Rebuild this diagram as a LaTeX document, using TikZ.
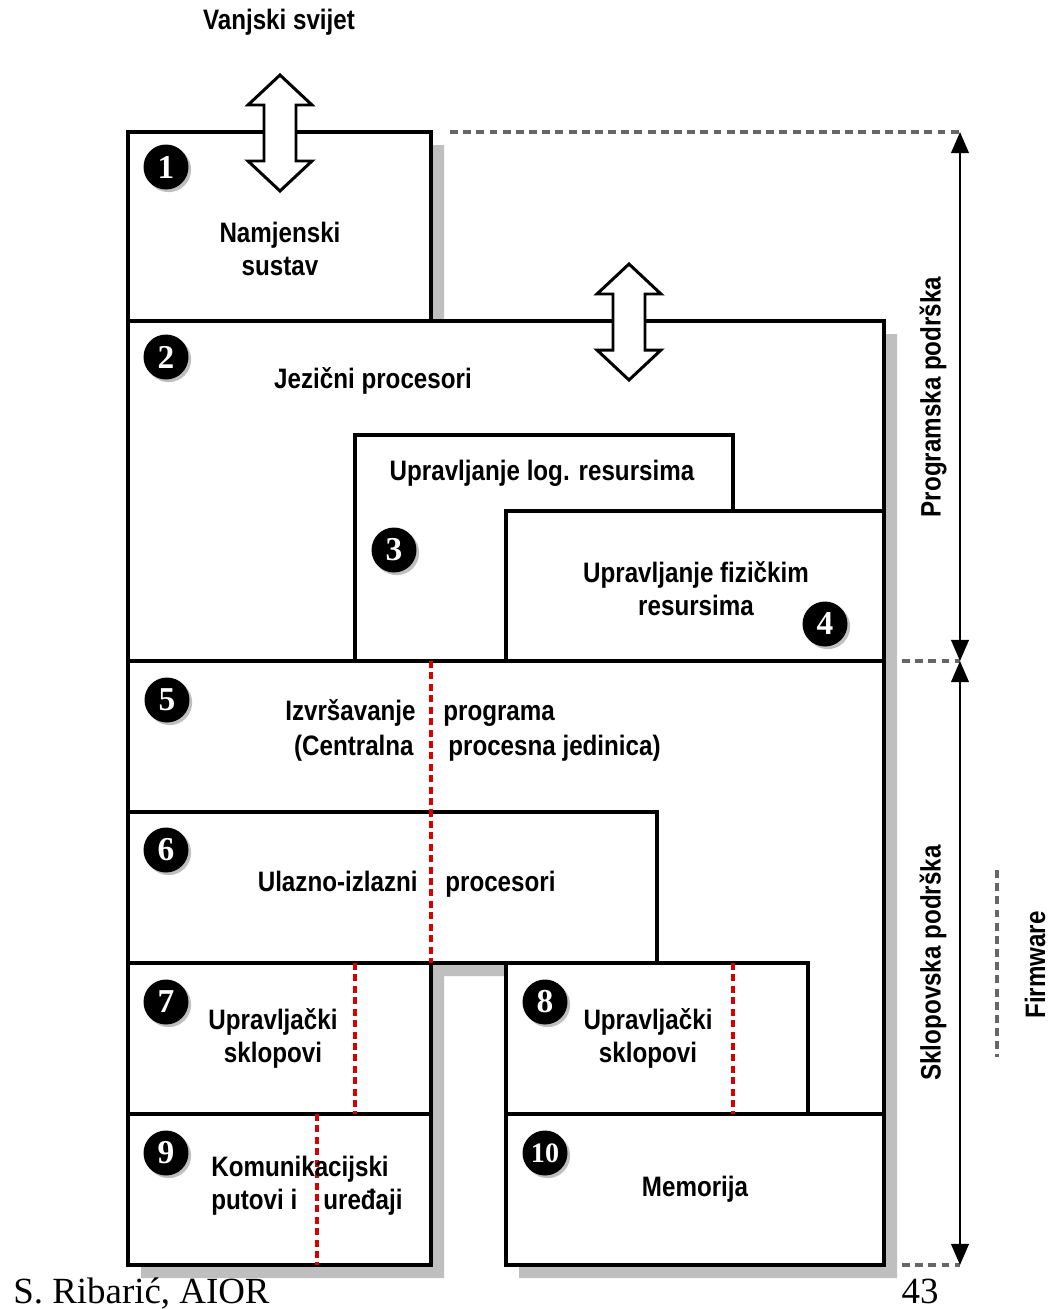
\documentclass[tikz,border=0pt]{standalone}
\usepackage{fontspec}
\setmainfont{Liberation Serif}
\newfontfamily\lblfont[FakeStretch=0.86]{Liberation Sans}
\usetikzlibrary{arrows.meta, shadows}

\begin{document}
\begin{tikzpicture}[x=0.02cm, y=-0.02cm,
    every node/.style={font=\lblfont\bfseries\fontsize{16}{18.8}\selectfont, align=center, inner sep=0pt},
    box/.style={line width=2pt, line join=miter},
    cut/.style={red!85!black, line width=1.8pt, dash pattern=on 4pt off 2.5pt},
    guide/.style={black!60, line width=1.9pt, dash pattern=on 4.5pt off 3pt},
    num/.style={circle, fill=black, text=white, minimum size=0.9cm,
      font=\rmfamily\bfseries\fontsize{19}{19}\selectfont,
      drop shadow={shadow xshift=1.5pt, shadow yshift=-1.5pt, fill=black!25, opacity=1}},
    io/.style={fill=white, line width=1.7pt, line join=miter},
    span/.style={line width=1.3pt, {Triangle[width=10pt,length=12pt]}-{Triangle[width=10pt,length=12pt]}}]
  \useasboundingbox (0,0) rectangle (1050,1309);

  % shadow and outline of the whole block
  \fill[black!25] (141,145) -- (444,145) -- (444,334) -- (897,334) -- (897,1278) -- (519,1278)
    -- (519,976) -- (444,976) -- (444,1278) -- (141,1278) -- cycle;
  \draw[box, fill=white] (128,132) -- (431,132) -- (431,321) -- (884,321) -- (884,1265) -- (506,1265)
    -- (506,963) -- (431,963) -- (431,1265) -- (128,1265) -- cycle;

  % inner walls
  \draw[box] (128,321) -- (431,321);
  \draw[box] (355,661) -- (355,435) -- (733,435) -- (733,511);
  \draw[box] (506,661) -- (506,511) -- (884,511);
  \draw[box] (128,661) -- (884,661);
  \draw[box] (128,812) -- (657,812) -- (657,963) -- (128,963);
  \draw[box] (506,963) -- (808,963) -- (808,1114);
  \draw[box] (128,1114) -- (431,1114);
  \draw[box] (506,1114) -- (884,1114);

  % firmware cuts
  \draw[cut] (431,661) -- (431,963);
  \draw[cut] (355,963) -- (355,1114);
  \draw[cut] (317,1114) -- (317,1265);
  \draw[cut] (733,963) -- (733,1114);

  % hollow double arrows
  \foreach \cx/\ty in {280/75, 629/264}
    \draw[io] (\cx,\ty) -- (\cx+32,\ty+30) -- (\cx+16,\ty+30) -- (\cx+16,\ty+86) -- (\cx+32,\ty+86)
      -- (\cx,\ty+116) -- (\cx-32,\ty+86) -- (\cx-16,\ty+86) -- (\cx-16,\ty+30) -- (\cx-32,\ty+30) -- cycle;

  % numbers
  \node[num] (n1) at (166,167) {1};
  \node[num] (n2) at (166,357) {2};
  \node[num] (n3) at (394,550) {3};
  \node[num] (n4) at (825,624) {4};
  \node[num] (n5) at (167,700) {5};
  \node[num] (n6) at (166,850) {6};
  \node[num] (n7) at (166,1002) {7};
  \node[num] (n8) at (545,1002) {8};
  \node[num] (n9) at (166,1153) {9};
  \node[num, font=\rmfamily\bfseries\fontsize{16}{16}\selectfont] (n10) at (545,1153) {10};

  % labels
  \node (world) at (279,22) {Vanjski svijet};
  \node (dedicated) at (280,249) {Namjenski\\sustav};
  \node (langproc) at (373,381) {Jezični procesori};
  \node (logres) at (542,473) {Upravljanje log. resursima};
  \node (physres) at (696,589) {Upravljanje fizičkim\\resursima};
  \node[anchor=mid east] (exec1) at (416,716) {Izvršavanje};
  \node[anchor=mid west] (exec2) at (443,716) {programa};
  \node[anchor=mid east] (cpu1) at (414,751) {(Centralna};
  \node[anchor=mid west] (cpu2) at (448,751) {procesna jedinica)};
  \node[anchor=mid east] (iop1) at (418,887) {Ulazno-izlazni};
  \node[anchor=mid west] (iop2) at (445,887) {procesori};
  \node (ctrl1) at (273,1038) {Upravljački\\sklopovi};
  \node (ctrl2) at (648,1038) {Upravljački\\sklopovi};
  \node[anchor=mid west] (comm1) at (211,1172) {Komunikacijski};
  \node[anchor=mid west] (comm2) at (211,1205) {putovi i};
  \node[anchor=mid west] (comm3) at (323,1205) {uređaji};
  \node (memory) at (695,1189) {Memorija};

  % software / hardware spans
  \coordinate (ptop) at (960,132);
  \coordinate (pmid) at (960,661);
  \coordinate (pbot) at (960,1265);
  \draw[guide] (450,132) -- (ptop);
  \draw[guide] (902,661) -- (pmid);
  \draw[guide] (902,1265) -- (pbot);
  \draw[span] (ptop) -- (pmid);
  \draw[span] (pmid) -- (pbot);
  \node[rotate=90] (sw) at (933,397) {Programska podrška};
  \node[rotate=90] (hw) at (933,963) {Sklopovska podrška};
  \draw[guide] (997,870) -- (997,1057);
  \node[rotate=90] (fw) at (1035,965) {Firmware};

  % footer
  \node[anchor=base west, font=\rmfamily\fontsize{21}{21}\selectfont] (author) at (13,1303) {S. Ribarić, AIOR};
  \node[anchor=base, font=\rmfamily\fontsize{21}{21}\selectfont] (page) at (920,1303) {43};
\end{tikzpicture}
\end{document}
